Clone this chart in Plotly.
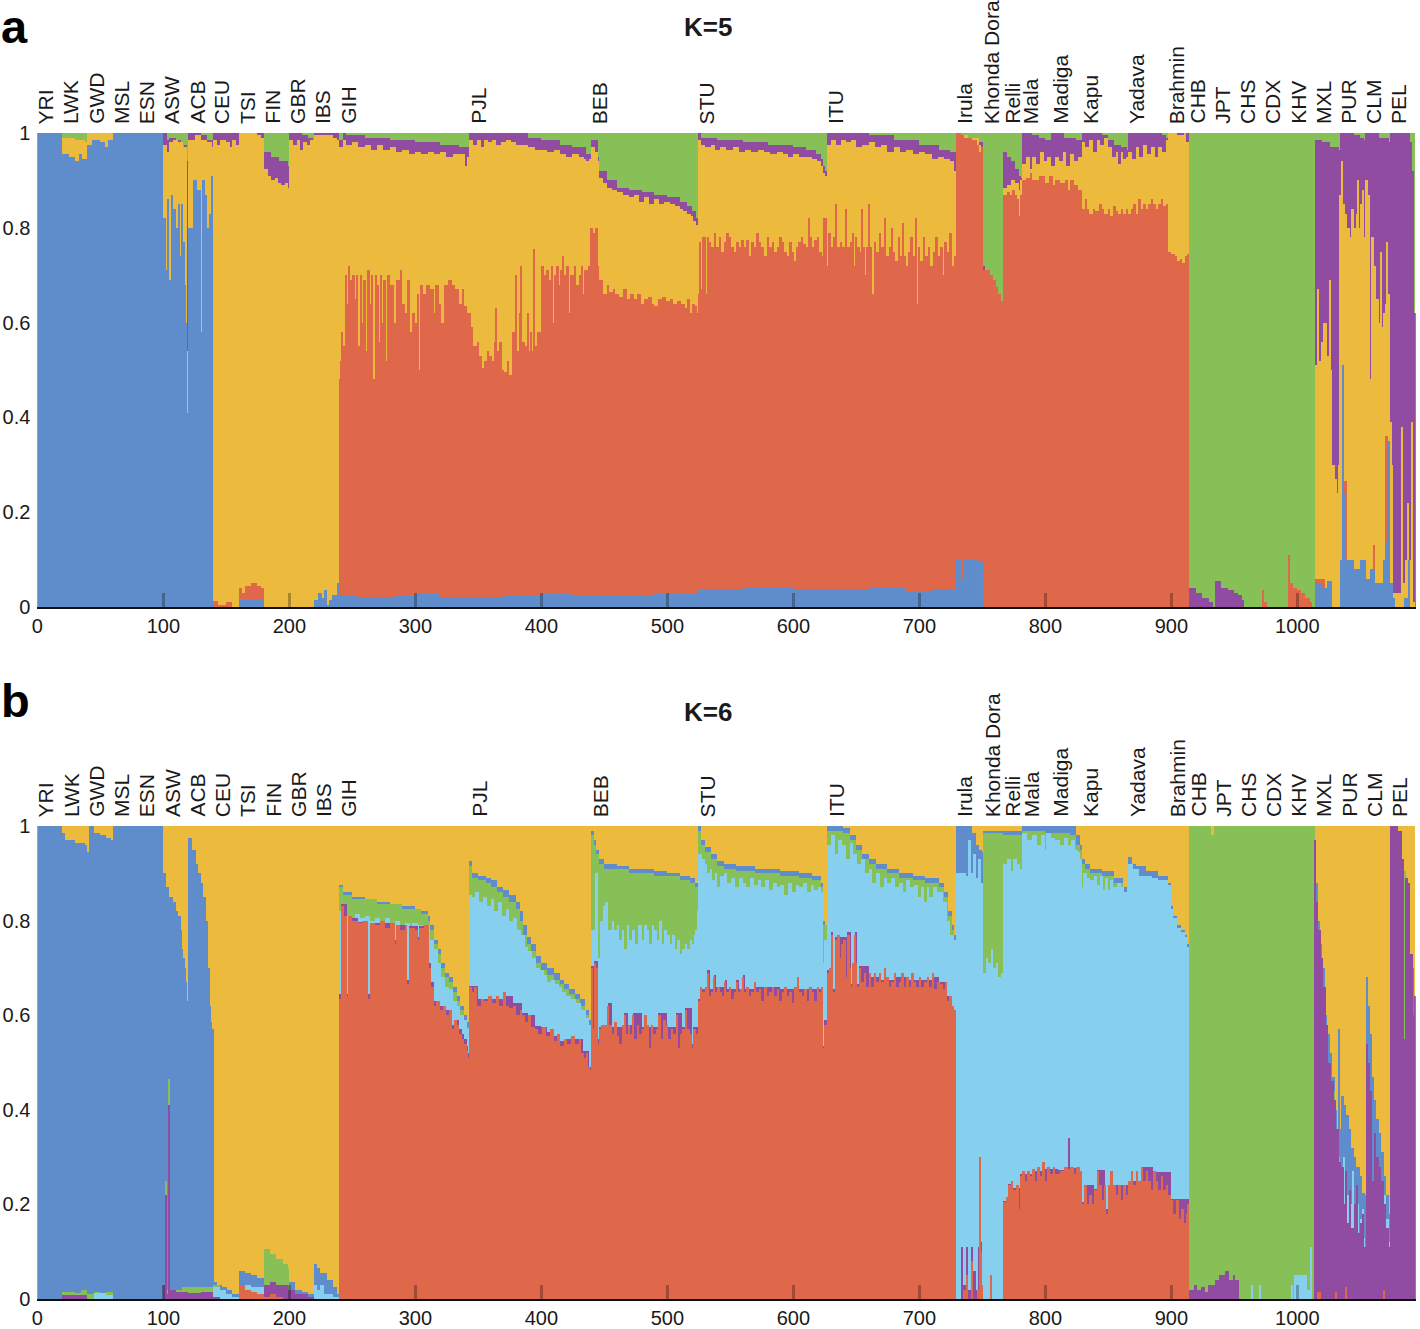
import plotly.graph_objects as go

W, H = 1420, 1329
END = 1094
pop_names = ["YRI","LWK","GWD","MSL","ESN","ASW","ACB","CEU","TSI","FIN","GBR","IBS","GIH","PJL","BEB","STU","ITU","Irula","Khonda Dora","Relli","Mala","Madiga","Kapu","Yadava","Brahmin","CHB","JPT","CHS","CDX","KHV","MXL","PUR","CLM","PEL"]
pop_starts = [0,20,40,60,80,100,120,140,160,180,200,220,240,343.5,440,525,627,729,751,767,782,805,829,866,898,914,934,954,974,994,1014,1034,1054,1074]
x_ticks = [0,100,200,300,400,500,600,700,800,900,1000]
y_ticks = [0,0.2,0.4,0.6,0.8,1]
y_tick_text = ["0","0.2","0.4","0.6","0.8","1"]

BLUE, RED, YEL, PUR, GRN, SKY = "#5f8ccb", "#df674a", "#ecba3d", "#8f4ca0", "#88c058", "#86cfef"

# ---- K=5: cumulative height of each component's top, (first sample, height)
a_green = [(0,1)]
a_purple = [(0,0),(100,1),(103,.985),(105,.99),(110,.985),(114,.97),(117,.975),(119,.94),(120,1),(130,.995),(135,.985),(140,1),(180,.96),(186,.95),(192,.94),(199,.93),(200,1),(210,.995),(215,.99),(219,.985),(220,1),(240,.985),(243,1),(245,.995),(260,.99),(280,.985),(300,.98),(320,.975),(335,.97),(343,1),(380,1),(390,.99),(400,.985),(415,.975),(425,.97),(436,.955),(440,.985),(445,.95),(446,.92),(452,.90),(460,.885),(470,.88),(480,.875),(490,.87),(500,.865),(510,.855),(516,.845),(520,.835),(523,.82),(525,1),(527,.99),(540,.985),(560,.98),(580,.975),(600,.97),(610,.965),(618,.955),(622,.945),(624,.93),(625,.92),(627,1),(660,.995),(680,.985),(700,.975),(716,.965),(725,.96),(729,1),(733,.99),(742,.985),(748,.98),(751,.72),(752,0),(767,.96),(770,.95),(773,.94),(776,.925),(779,.91),(781,.905),(782,1),(790,.995),(795,.99),(800,.985),(805,1),(815,.99),(825,.985),(829,1),(845,.995),(850,.985),(855,.975),(860,.97),(865,.965),(866,1),(893,.995),(896,.99),(898,1),(914,.04),(920,.03),(925,.02),(930,.01),(933,0),(935,.055),(940,.04),(945,.035),(950,.03),(953,.025),(956,.015),(958,0),(1014,.985),(1020,.98),(1026,.97),(1033,.965),(1034,1),(1045,.995),(1050,.99),(1053,.985),(1054,1),(1065,.99),(1073,.98),(1074,1),(1090,.98),(1091,.92),(1093,.62)]
a_yellow = [(0,0),(20,.99),(30,.985),(38,.98),(40,1),(60,0),(100,.975),(103,.96),(105,.98),(108,.985),(112,.98),(116,.97),(119,.54),(120,.985),(125,.995),(130,.985),(135,.98),(139,.97),(140,.985),(143,.975),(145,.985),(150,.98),(153,.97),(155,.985),(158,.975),(160,1),(175,.995),(178,.99),(180,.925),(183,.91),(186,.90),(189,.905),(191,.895),(194,.89),(197,.895),(199,.885),(200,.985),(203,.975),(206,.985),(209,.965),(211,.98),(214,.975),(217,.985),(220,.995),(235,.99),(238,.985),(240,.97),(243,.985),(245,.975),(250,.98),(255,.97),(260,.975),(265,.965),(270,.975),(275,.965),(280,.97),(285,.96),(290,.965),(295,.955),(300,.96),(305,.955),(310,.96),(315,.955),(320,.96),(325,.95),(330,.955),(340,.93),(341,.95),(343,.985),(346,.975),(349,.985),(352,.97),(355,.985),(358,.98),(361,.985),(364,.975),(368,.98),(372,.985),(376,.98),(380,.975),(390,.97),(395,.965),(405,.96),(410,.965),(415,.955),(420,.95),(425,.955),(430,.95),(434,.945),(436,.94),(438,.945),(440,.97),(443,.96),(445,.94),(446,.905),(449,.895),(452,.885),(456,.88),(460,.875),(465,.87),(470,.865),(474,.87),(478,.855),(482,.865),(486,.85),(490,.86),(494,.85),(498,.855),(502,.85),(506,.845),(510,.84),(513,.835),(516,.83),(519,.825),(521,.815),(523,.805),(525,.985),(527,.975),(530,.97),(535,.975),(538,.965),(542,.97),(547,.965),(552,.97),(557,.96),(562,.965),(567,.96),(572,.965),(577,.96),(582,.955),(587,.96),(592,.955),(596,.95),(600,.955),(605,.95),(615,.945),(619,.94),(622,.93),(624,.915),(625,.91),(627,.975),(630,.985),(634,.975),(638,.985),(642,.98),(646,.985),(650,.97),(655,.975),(660,.98),(665,.97),(670,.975),(675,.96),(680,.97),(685,.96),(690,.965),(695,.955),(700,.96),(705,.955),(710,.945),(715,.95),(720,.945),(725,.94),(728,.92),(729,1),(733,.99),(736,.995),(739,.99),(748,.975),(749,.97),(751,0),(767,.885),(770,.89),(773,.9),(776,.895),(779,.88),(780,.90),(782,.935),(785,.95),(788,.925),(790,.95),(793,.935),(796,.96),(799,.94),(802,.95),(805,.93),(808,.95),(811,.94),(814,.96),(817,.93),(820,.955),(823,.94),(826,.95),(829,.98),(832,.97),(835,.985),(838,.96),(841,.985),(844,.975),(847,.99),(850,.97),(853,.95),(856,.96),(858,.935),(860,.96),(862,.945),(864,.95),(866,.96),(869,.945),(872,.97),(875,.95),(878,.975),(881,.955),(884,.97),(887,.95),(890,.97),(893,.96),(896,.985),(898,1),(905,.995),(910,1),(912,.98),(914,0),(1014,.51),(1016,.67),(1017,.52),(1019,.56),(1021,.6),(1022,.46),(1023,.6),(1024,.53),(1025,.48),(1026,.69),(1027,.5),(1028,.3),(1030,.27),(1032,.24),(1033,.3),(1034,.87),(1035,.94),(1036,.85),(1038,.83),(1040,.8),(1042,.78),(1043,.84),(1045,.8),(1047,.83),(1048,.9),(1049,.8),(1050,.85),(1052,.88),(1053,.78),(1054,.9),(1056,.87),(1058,.48),(1059,.78),(1061,.72),(1063,.65),(1065,.6),(1066,.75),(1067,.59),(1068,.62),(1070,.64),(1071,.77),(1072,.66),(1074,.39),(1075,.3),(1076,.03),(1081,.03),(1083,.38),(1084,.05),(1086,.1),(1088,.22),(1089,.05),(1090,.1),(1091,.39),(1092,.01)]
a_red = [(0,0),(140,.012),(144,.005),(150,.01),(155,0),(160,.04),(163,.03),(165,.045),(170,.05),(175,.045),(178,.04),(180,0),(240,.48),(241,.52),(242,.58),(243,.55),(245,.70),(246,.64),(247,.72),(248,.69),(250,.70),(252,.65),(253,.70),(255,.55),(256,.7),(258,.6),(259,.69),(261,.54),(262,.71),(264,.64),(265,.70),(267,.48),(268,.70),(270,.68),(271,.56),(272,.70),(274,.6),(275,.69),(277,.52),(278,.70),(280,.68),(283,.6),(285,.69),(288,.71),(290,.64),(292,.62),(294,.69),(296,.58),(298,.62),(300,.6),(302,.66),(303,.5),(304,.68),(306,.66),(309,.68),(312,.67),(315,.62),(316,.68),(319,.64),(321,.6),(323,.68),(326,.69),(329,.68),(332,.67),(335,.64),(337,.67),(339,.635),(341,.62),(343,.62),(344,.59),(346,.55),(349,.56),(351,.53),(353,.505),(355,.52),(357,.54),(359,.53),(361,.52),(363,.56),(364,.63),(365,.54),(367,.56),(369,.5),(371,.495),(373,.52),(375,.49),(377,.58),(379,.53),(380,.7),(381,.54),(383,.62),(384,.72),(385,.56),(387,.55),(389,.62),(390,.54),(392,.58),(393,.54),(394,.755),(395,.55),(397,.58),(400,.72),(402,.70),(404,.71),(406,.69),(408,.72),(409,.6),(410,.70),(412,.72),(414,.68),(415,.71),(417,.74),(418,.7),(420,.72),(422,.62),(423,.70),(426,.72),(428,.68),(430,.7),(432,.72),(433,.66),(434,.71),(437,.72),(439,.8),(441,.79),(443,.8),(445,.72),(446,.69),(449,.66),(452,.68),(454,.665),(457,.67),(459,.66),(462,.655),(465,.67),(468,.65),(471,.66),(474,.65),(476,.66),(479,.64),(482,.65),(485,.655),(488,.64),(490,.635),(493,.65),(496,.655),(499,.645),(502,.65),(505,.64),(508,.645),(511,.64),(514,.63),(516,.65),(518,.62),(520,.64),(522,.635),(524,.62),(525,.66),(526,.77),(527,.67),(528,.78),(529,.7),(530,.78),(531,.66),(532,.78),(533,.77),(535,.76),(537,.79),(539,.76),(541,.78),(543,.75),(545,.77),(547,.79),(549,.78),(551,.76),(553,.75),(555,.77),(557,.76),(559,.775),(561,.76),(563,.775),(565,.74),(567,.77),(569,.76),(571,.79),(573,.77),(575,.76),(577,.74),(579,.78),(581,.76),(583,.77),(585,.75),(587,.76),(589,.78),(591,.77),(593,.75),(595,.74),(597,.77),(599,.75),(601,.73),(602,.76),(604,.77),(606,.78),(608,.765),(610,.76),(612,.82),(613,.78),(615,.76),(617,.775),(619,.78),(621,.75),(623,.74),(624,.82),(625,.62),(626,.82),(627,.72),(628,.79),(630,.76),(632,.78),(634,.85),(635,.76),(637,.77),(639,.76),(641,.69),(642,.84),(643,.76),(645,.77),(647,.79),(648,.72),(649,.78),(651,.76),(653,.75),(654,.84),(655,.76),(657,.7),(658,.76),(660,.85),(661,.76),(663,.66),(664,.77),(666,.75),(668,.79),(670,.76),(672,.74),(673,.82),(674,.74),(676,.76),(678,.8),(679,.75),(681,.73),(683,.78),(685,.74),(687,.81),(688,.74),(690,.72),(691,.75),(693,.78),(695,.74),(697,.82),(698,.64),(699,.76),(701,.73),(703,.78),(705,.74),(707,.76),(709,.72),(711,.75),(713,.78),(715,.74),(717,.76),(719,.7),(720,.77),(722,.75),(724,.79),(726,.72),(728,.74),(729,1),(733,.995),(736,.99),(742,.985),(746,.975),(748,.96),(749,.97),(751,.71),(756,.70),(759,.69),(761,.675),(763,.66),(765,.645),(767,.87),(770,.875),(772,.87),(774,.88),(776,.87),(778,.86),(779,.825),(780,.87),(782,.9),(785,.905),(788,.915),(790,.9),(795,.91),(800,.895),(803,.91),(806,.89),(808,.9),(812,.895),(816,.9),(818,.88),(820,.9),(823,.89),(826,.88),(829,.84),(832,.86),(833,.84),(835,.83),(838,.84),(840,.835),(843,.85),(845,.84),(847,.83),(850,.84),(852,.825),(854,.845),(856,.835),(858,.83),(860,.84),(862,.83),(864,.84),(866,.83),(868,.84),(870,.85),(872,.83),(874,.86),(876,.84),(878,.85),(880,.84),(882,.85),(884,.86),(886,.85),(888,.84),(890,.85),(892,.86),(894,.845),(896,.85),(898,.75),(900,.745),(903,.74),(905,.73),(907,.735),(909,.725),(911,.74),(913,.745),(914,0),(973,.035),(974,.01),(976,0),(993,.11),(994,.05),(997,.04),(1000,.035),(1003,.03),(1006,.02),(1010,.01),(1012,0),(1014,.06),(1022,0),(1037,.265),(1040,0),(1050,.1),(1052,0),(1060,.13),(1062,0),(1070,.36),(1072,0)]
a_blue = [(0,1),(20,.955),(25,.95),(30,.94),(33,.955),(36,.945),(40,.975),(44,.985),(50,.98),(54,.97),(56,.985),(60,1),(100,.82),(102,.71),(103,.86),(105,.69),(106,.87),(108,.84),(110,.80),(112,.85),(113,.74),(114,.85),(116,.77),(117,.68),(118,.6),(119,.41),(120,.8),(122,.74),(123,.8),(124,.9),(127,.88),(130,.58),(131,.9),(133,.87),(135,.8),(137,.83),(138,.91),(140,0),(160,.015),(180,0),(220,.015),(223,.03),(226,.02),(228,.035),(230,.005),(232,.015),(234,.025),(238,.05),(240,.025),(255,.022),(270,.02),(285,.024),(300,.027),(320,.022),(343,.022),(370,.025),(400,.028),(425,.025),(450,.025),(490,.028),(525,.035),(560,.04),(600,.035),(630,.037),(660,.04),(690,.033),(710,.037),(729,.10),(733,.06),(736,.10),(746,.095),(751,0),(1014,.05),(1020,.04),(1024,.055),(1028,0),(1034,.1),(1036,.51),(1037,.24),(1038,.1),(1045,.08),(1050,.1),(1055,.06),(1058,.08),(1062,.05),(1068,.1),(1070,.14),(1072,.35),(1074,.05),(1076,.02),(1078,0),(1085,.02),(1088,.1),(1090,0)]

# ---- K=6
b_yellow = [(0,1)]
b_blue = [(0,1),(20,.985),(22,.97),(30,.965),(38,.96),(40,.945),(41,1),(45,.985),(50,.98),(55,.975),(59,.97),(60,1),(100,.9),(102,.87),(105,.85),(108,.84),(110,.82),(112,.81),(114,.78),(115,.74),(116,.72),(117,.7),(118,.67),(119,.63),(120,.975),(123,.95),(126,.92),(128,.9),(130,.88),(132,.85),(134,.8),(136,.7),(137,.62),(138,.585),(139,.57),(140,.035),(143,.03),(147,.025),(151,.02),(155,.01),(160,.06),(165,.055),(170,.05),(175,.045),(180,0),(200,.035),(205,.02),(210,.015),(215,.01),(220,.075),(222,.065),(225,.055),(230,.04),(235,.025),(238,.01),(240,.875),(243,.86),(250,.85),(260,.845),(270,.84),(280,.835),(290,.83),(300,.825),(305,.82),(310,.81),(312,.79),(315,.76),(318,.74),(321,.71),(324,.69),(327,.68),(330,.66),(333,.64),(336,.62),(339,.6),(341,.585),(343,.925),(345,.9),(350,.895),(356,.89),(360,.885),(365,.87),(370,.865),(375,.855),(380,.84),(383,.82),(386,.79),(389,.765),(392,.75),(396,.725),(400,.71),(405,.7),(410,.69),(415,.675),(418,.665),(422,.655),(427,.645),(431,.635),(435,.61),(438,.59),(440,.99),(442,.97),(444,.95),(446,.93),(450,.92),(460,.915),(470,.91),(490,.905),(500,.9),(510,.895),(518,.89),(522,.88),(525,1),(527,.97),(530,.955),(535,.94),(540,.925),(545,.92),(555,.915),(570,.91),(590,.905),(605,.9),(615,.895),(622,.88),(624,.8),(625,.79),(627,1),(640,.995),(645,.98),(650,.96),(655,.94),(660,.93),(666,.92),(675,.91),(684,.9),(695,.895),(705,.89),(716,.88),(720,.86),(723,.82),(726,.79),(728,.77),(729,1),(740,1),(742,.985),(745,.96),(748,.95),(750,.945),(751,.99),(782,1),(820,1),(825,.98),(828,.96),(829,.93),(832,.92),(836,.91),(845,.905),(855,.89),(862,.87),(865,.86),(866,.935),(869,.92),(872,.915),(880,.905),(890,.895),(898,.88),(900,.83),(902,.81),(905,.79),(908,.78),(911,.77),(913,.75),(914,0),(1014,.97),(1015,.88),(1017,.8),(1018,.75),(1020,.7),(1022,.6),(1024,.56),(1026,.52),(1028,.47),(1030,.4),(1032,.36),(1033,.57),(1034,.36),(1035,.43),(1037,.41),(1039,.39),(1041,.36),(1043,.32),(1045,.3),(1047,.28),(1050,.26),(1052,.225),(1054,.22),(1055,.68),(1056,.62),(1058,.56),(1059,.47),(1061,.42),(1063,.38),(1065,.35),(1067,.31),(1069,.26),(1071,.22),(1073,.18),(1074,0),(1092,.7),(1093,0)]
b_green = [(0,0),(20,.015),(30,.012),(35,.018),(40,.01),(45,.015),(50,.012),(55,.015),(60,0),(100,.02),(102,.25),(103,.02),(104,.465),(105,.02),(115,.025),(125,.025),(135,.025),(140,.03),(145,0),(180,.105),(185,.095),(190,.085),(195,.075),(199,.065),(200,0),(240,.87),(243,.855),(250,.845),(270,.835),(290,.825),(305,.815),(310,.8),(312,.78),(315,.75),(318,.73),(321,.7),(324,.68),(327,.67),(330,.65),(333,.63),(336,.61),(339,.59),(341,.575),(343,.915),(345,.89),(350,.885),(356,.88),(360,.87),(365,.86),(370,.85),(375,.84),(380,.825),(383,.8),(386,.77),(389,.75),(392,.735),(396,.71),(400,.695),(405,.685),(410,.675),(415,.665),(418,.655),(422,.645),(427,.635),(431,.62),(435,.6),(438,.58),(440,.98),(442,.96),(444,.94),(446,.92),(450,.91),(470,.9),(490,.895),(510,.885),(518,.88),(522,.87),(525,.99),(527,.96),(530,.945),(535,.93),(540,.915),(545,.91),(555,.905),(570,.9),(590,.895),(605,.89),(615,.885),(622,.87),(624,.79),(627,.99),(640,.985),(645,.97),(650,.95),(655,.93),(660,.92),(666,.91),(675,.9),(684,.89),(695,.885),(705,.88),(716,.87),(720,.85),(723,.81),(726,.78),(728,.76),(729,0),(751,.985),(767,.98),(782,.99),(800,.985),(820,.98),(825,.96),(828,.95),(829,.92),(832,.91),(836,.9),(845,.895),(855,.88),(862,.86),(866,0),(914,1),(932,.98),(934,1),(1014,0),(1023,.5),(1026,.44),(1030,.34),(1033,.3),(1034,0),(1085,.905),(1086,0)]
b_sky = [(0,0),(45,.012),(55,.008),(60,0),(140,.025),(145,.02),(150,.01),(155,.005),(160,.03),(170,.025),(180,0),(220,.03),(222,.02),(225,.03),(228,.01),(235,.005),(240,.82),(244,.81),(248,.8),(252,.815),(256,.805),(260,.81),(264,.8),(268,.805),(272,.795),(276,.805),(280,.79),(284,.8),(288,.785),(292,.795),(296,.78),(298,.795),(302,.79),(306,.78),(309,.79),(312,.76),(315,.74),(318,.71),(321,.68),(324,.66),(327,.655),(330,.63),(333,.62),(336,.6),(339,.59),(341,.57),(343,.855),(345,.85),(348,.86),(351,.84),(354,.85),(357,.83),(360,.845),(363,.82),(366,.84),(369,.81),(372,.825),(375,.8),(378,.805),(381,.78),(384,.77),(387,.745),(390,.735),(393,.72),(396,.7),(399,.695),(402,.685),(405,.67),(408,.675),(411,.665),(414,.66),(417,.65),(420,.64),(424,.635),(428,.625),(432,.61),(436,.595),(438,.58),(440,.78),(443,.9),(445,.72),(447,.80),(449,.83),(451,.84),(453,.78),(456,.8),(458,.78),(460,.79),(462,.76),(464,.78),(466,.74),(468,.79),(470,.76),(472,.78),(475,.75),(477,.79),(480,.76),(482,.79),(484,.78),(486,.75),(488,.79),(490,.78),(492,.76),(494,.8),(496,.75),(498,.78),(500,.77),(502,.75),(504,.77),(506,.74),(508,.76),(510,.73),(512,.74),(514,.75),(516,.74),(518,.76),(520,.75),(522,.77),(523,.78),(524,.82),(525,.94),(528,.93),(530,.92),(532,.9),(534,.91),(536,.885),(538,.9),(540,.87),(542,.895),(545,.9),(548,.88),(551,.89),(554,.87),(557,.89),(560,.88),(563,.87),(566,.89),(569,.875),(572,.885),(575,.87),(578,.885),(581,.865),(584,.88),(587,.87),(590,.875),(593,.855),(596,.88),(599,.86),(602,.875),(605,.87),(608,.88),(611,.86),(614,.875),(617,.865),(620,.87),(622,.86),(624,.71),(625,.76),(627,.96),(630,.98),(633,.94),(636,.97),(639,.96),(642,.93),(645,.965),(648,.94),(651,.92),(654,.93),(657,.9),(660,.91),(663,.88),(666,.9),(669,.87),(672,.89),(675,.88),(678,.89),(681,.87),(684,.88),(687,.86),(690,.885),(693,.87),(696,.875),(699,.85),(702,.87),(704,.84),(706,.87),(708,.85),(711,.87),(714,.86),(716,.86),(719,.84),(722,.8),(725,.77),(728,.76),(729,.9),(737,.895),(739,.97),(741,.9),(743,.94),(745,.89),(747,.93),(749,.88),(751,.69),(753,.72),(755,.71),(757,.74),(759,.7),(761,.71),(763,.68),(765,.69),(767,.92),(770,.93),(773,.905),(775,.93),(778,.92),(780,.91),(782,.985),(786,.97),(790,.98),(794,.96),(797,.98),(800,.95),(801,.985),(805,.975),(808,.97),(812,.96),(815,.975),(818,.96),(821,.97),(824,.95),(826,.945),(828,.93),(829,.87),(830,.9),(833,.89),(836,.885),(839,.895),(841,.875),(844,.895),(846,.865),(848,.89),(850,.865),(852,.885),(854,.87),(857,.88),(860,.87),(863,.86),(866,.92),(870,.91),(875,.895),(885,.89),(890,.885),(898,.875),(900,.825),(902,.805),(905,.785),(908,.775),(911,.765),(913,.745),(914,0),(964,.03),(965,0),(970,.03),(971,0),(995,.03),(997,0),(998,.05),(1005,.05),(1008,.02),(1011,.11),(1012,0),(1037,.3),(1038,0),(1040,.22),(1041,0),(1043,.2),(1044,.27),(1045,0),(1048,.2),(1049,0),(1050,.17),(1052,.19),(1053,.13),(1054,0),(1069,.22),(1071,.17),(1073,.12),(1074,0)]
b_purple = [(0,0),(20,.008),(40,0),(100,.03),(102,.22),(103,.01),(104,.41),(105,.02),(110,.015),(120,.012),(130,.015),(140,.005),(145,0),(180,.03),(185,.035),(190,.03),(195,.03),(199,.02),(200,.02),(205,.01),(215,.003),(220,0),(240,.645),(241,.835),(246,.645),(247,.805),(255,.797),(263,.645),(264,.795),(275,.795),(284,.76),(285,.79),(294,.675),(295,.788),(302,.765),(303,.788),(311,.71),(313,.67),(315,.63),(320,.62),(325,.61),(329,.58),(333,.59),(335,.57),(337,.56),(339,.55),(341,.535),(342,.52),(343,.662),(350,.635),(360,.635),(370,.64),(378,.625),(385,.605),(390,.6),(395,.578),(400,.575),(405,.565),(410,.555),(415,.545),(420,.55),(430,.55),(433,.525),(438,.49),(440,.705),(442,.715),(445,.55),(446,.575),(453,.625),(456,.575),(466,.605),(469,.58),(473,.605),(480,.575),(493,.605),(500,.575),(507,.605),(512,.575),(514,.615),(520,.54),(521,.575),(525,.635),(528,.655),(532,.695),(534,.655),(537,.685),(539,.66),(546,.675),(548,.655),(555,.675),(557,.655),(560,.685),(562,.655),(570,.66),(590,.655),(624,.535),(625,.59),(627,.695),(630,.775),(632,.655),(633,.765),(643,.775),(646,.665),(649,.775),(651,.665),(652,.705),(660,.68),(670,.675),(680,.68),(690,.675),(710,.68),(716,.67),(722,.64),(726,.61),(728,.612),(729,0),(734,.11),(735,.03),(737,.11),(739,.02),(741,.11),(743,.06),(745,.02),(747,.11),(748,.3),(749,.12),(750,0),(767,.208),(771,.243),(775,.235),(780,.265),(790,.27),(800,.275),(810,.272),(819,.34),(820,.278),(828,.27),(829,.205),(831,.24),(839,.232),(841,.272),(848,.19),(850,.24),(866,.25),(876,.28),(886,.268),(900,.212),(914,.02),(918,.03),(921,.02),(924,.025),(927,.015),(929,.03),(935,.04),(938,.05),(943,.06),(946,.04),(949,.05),(951,.04),(954,0),(1014,.97),(1015,.84),(1017,.78),(1019,.72),(1021,.66),(1023,.58),(1025,.5),(1027,.46),(1029,.42),(1031,.36),(1033,.29),(1035,.28),(1037,.2),(1038,.27),(1040,.16),(1041,.23),(1043,.15),(1045,.2),(1047,.24),(1048,.14),(1050,.16),(1052,.18),(1053,.11),(1055,.54),(1056,.5),(1058,.44),(1059,.25),(1061,.35),(1063,.3),(1065,.28),(1067,.25),(1069,.2),(1071,.15),(1073,.11),(1074,1),(1080,.99),(1083,.93),(1085,.55),(1086,.89),(1088,.88),(1090,.73),(1092,.6),(1093,.64)]
b_red = [(0,0),(160,.03),(165,.02),(170,.015),(175,.01),(180,.005),(185,.01),(190,.005),(195,0),(240,.635),(241,.83),(244,.81),(246,.64),(247,.81),(250,.8),(255,.795),(258,.8),(263,.635),(264,.795),(268,.79),(272,.8),(276,.785),(280,.795),(284,.75),(285,.79),(288,.78),(292,.79),(294,.665),(295,.785),(300,.78),(302,.76),(303,.785),(307,.79),(311,.7),(313,.66),(315,.62),(317,.63),(320,.61),(322,.62),(325,.6),(327,.61),(329,.57),(331,.59),(333,.58),(335,.56),(337,.55),(339,.54),(341,.525),(342,.51),(343,.66),(345,.65),(347,.66),(349,.62),(352,.635),(355,.63),(358,.64),(361,.625),(364,.64),(367,.62),(370,.65),(372,.62),(375,.615),(378,.62),(380,.6),(383,.61),(385,.6),(387,.585),(390,.6),(392,.575),(395,.57),(398,.56),(401,.575),(404,.555),(407,.57),(410,.545),(413,.56),(415,.535),(418,.55),(421,.54),(424,.555),(427,.54),(430,.55),(432,.52),(434,.51),(436,.52),(437,.49),(439,.485),(440,.7),(441,.57),(442,.71),(444,.7),(445,.54),(446,.57),(448,.58),(452,.53),(453,.62),(454,.58),(456,.56),(458,.585),(460,.555),(462,.54),(464,.58),(466,.6),(467,.56),(469,.58),(471,.56),(473,.6),(474,.55),(476,.58),(478,.56),(480,.57),(482,.6),(484,.58),(486,.53),(487,.58),(489,.56),(491,.57),(493,.6),(495,.55),(497,.59),(499,.58),(501,.55),(503,.57),(505,.56),(507,.6),(509,.53),(510,.56),(512,.57),(514,.61),(516,.57),(518,.56),(520,.53),(521,.57),(523,.56),(525,.63),(526,.66),(528,.65),(530,.66),(532,.69),(533,.64),(535,.65),(537,.68),(538,.65),(540,.66),(542,.65),(544,.64),(546,.67),(547,.65),(549,.66),(551,.635),(553,.65),(555,.67),(556,.65),(558,.655),(560,.68),(561,.65),(563,.66),(565,.64),(567,.65),(569,.67),(571,.65),(573,.655),(575,.63),(577,.66),(579,.64),(581,.65),(583,.66),(585,.64),(587,.655),(589,.63),(591,.65),(593,.66),(595,.64),(597,.65),(599,.625),(601,.66),(603,.68),(605,.65),(607,.64),(609,.655),(611,.63),(613,.66),(615,.65),(617,.63),(619,.66),(621,.65),(623,.66),(624,.53),(625,.58),(627,.69),(629,.7),(630,.77),(632,.65),(633,.76),(635,.77),(637,.72),(638,.75),(640,.76),(642,.68),(643,.77),(645,.7),(646,.66),(647,.71),(649,.77),(650,.71),(651,.66),(652,.7),(654,.67),(656,.69),(658,.66),(660,.69),(662,.66),(664,.69),(666,.67),(668,.69),(670,.67),(672,.7),(674,.68),(676,.66),(678,.67),(680,.69),(682,.66),(684,.67),(686,.69),(688,.66),(690,.68),(692,.66),(694,.69),(696,.67),(698,.66),(700,.68),(702,.66),(704,.67),(706,.68),(708,.66),(710,.69),(712,.655),(714,.67),(717,.665),(719,.655),(721,.67),(722,.63),(724,.64),(726,.6),(727,.62),(728,.61),(729,0),(735,.02),(737,.05),(739,0),(741,.08),(743,0),(746,.02),(748,.3),(749,.1),(750,.03),(751,0),(757,.05),(758,0),(767,.205),(769,.215),(771,.24),(773,.25),(775,.23),(777,.24),(779,.19),(780,.26),(782,.27),(784,.25),(786,.27),(788,.26),(790,.275),(792,.25),(794,.28),(796,.26),(798,.29),(800,.25),(802,.28),(804,.265),(806,.28),(808,.265),(812,.27),(815,.28),(818,.275),(820,.28),(823,.265),(825,.28),(828,.27),(829,.2),(831,.24),(833,.2),(835,.22),(837,.2),(839,.23),(841,.27),(843,.24),(845,.21),(847,.24),(848,.18),(850,.24),(852,.27),(854,.24),(856,.22),(858,.24),(860,.21),(862,.24),(864,.22),(866,.25),(868,.27),(870,.24),(872,.27),(874,.25),(876,.28),(878,.25),(880,.27),(882,.25),(884,.23),(886,.27),(888,.25),(890,.23),(892,.26),(894,.23),(896,.24),(898,.22),(900,.21),(902,.18),(904,.21),(906,.17),(908,.19),(910,.16),(912,.18),(913,.2),(914,0),(1016,.015),(1019,0),(1030,.015),(1032,0),(1038,.025),(1040,0),(1068,.02),(1070,0)]


def layer(pairs, color, xa, ya):
    d = dict(pairs)
    xs = sorted(d)
    edges = xs + [END]
    return go.Bar(x=xs, y=[d[k] for k in xs], width=[edges[i + 1] - edges[i] for i in range(len(xs))],
                  offset=0, marker=dict(color=color, line=dict(width=0)), opacity=1,
                  hoverinfo="skip", showlegend=False, xaxis=xa, yaxis=ya)


fig = go.Figure()
for pairs, color in [(a_green, GRN), (a_purple, PUR), (a_yellow, YEL), (a_red, RED), (a_blue, BLUE)]:
    fig.add_trace(layer(pairs, color, "x", "y"))
for pairs, color in [(b_yellow, YEL), (b_blue, BLUE), (b_green, GRN), (b_sky, SKY), (b_purple, PUR), (b_red, RED)]:
    fig.add_trace(layer(pairs, color, "x2", "y2"))

FONT = "Liberation Sans, Arial, sans-serif"
TXT = "#1a1a1a"
dom_x = [37.4 / W, 1415.8 / W]


def xaxis(anchor):
    return dict(domain=dom_x, range=[0, END], anchor=anchor, tickvals=x_ticks, ticks="inside", ticklen=14, tickwidth=2.5,
                tickcolor="rgba(0,0,0,0.28)", showgrid=False, zeroline=False, showline=True, linecolor="#111111", linewidth=1.5,
                tickfont=dict(family=FONT, size=20, color=TXT))


def yaxis(anchor, top, bottom):
    return dict(domain=[1 - bottom / H, 1 - top / H], range=[0, 1], anchor=anchor, tickvals=y_ticks, ticktext=y_tick_text,
                ticks="", showgrid=False, zeroline=False, showline=False, ticklabelstandoff=6,
                tickfont=dict(family=FONT, size=20, color=TXT))


notes = []
for yref in ("y", "y2"):
    xref = "x" if yref == "y" else "x2"
    for name, start in zip(pop_names, pop_starts):
        notes.append(dict(x=start, y=1, xref=xref, yref=yref, text=name, textangle=-90, xanchor="left", yanchor="bottom",
                          xshift=-4, yshift=8, showarrow=False, font=dict(family=FONT, size=21, color=TXT), borderpad=0))
for text, px, py in [("K=5", 708, 27), ("K=6", 708, 712)]:
    notes.append(dict(x=px / W, y=1 - py / H, xref="paper", yref="paper", text=f"<b>{text}</b>", xanchor="center", yanchor="middle",
                      showarrow=False, font=dict(family=FONT, size=26, color=TXT)))
for text, py in [("a", 26), ("b", 700)]:
    notes.append(dict(x=0, y=1 - py / H, xref="paper", yref="paper", text=f"<b>{text}</b>", xanchor="left", yanchor="middle",
                      showarrow=False, borderpad=0, font=dict(family=FONT, size=47, color="#000000")))

fig.update_layout(width=W, height=H, margin=dict(l=0, r=0, t=0, b=0, autoexpand=False), paper_bgcolor="white", plot_bgcolor="white",
                  barmode="overlay", bargap=0, showlegend=False, annotations=notes,
                  xaxis=xaxis("y"), yaxis=yaxis("x", 133, 607), xaxis2=xaxis("y2"), yaxis2=yaxis("x2", 826, 1299))
fig.write_html("out.html", config={"displayModeBar": False}, post_script="document.body.style.margin='0';")
